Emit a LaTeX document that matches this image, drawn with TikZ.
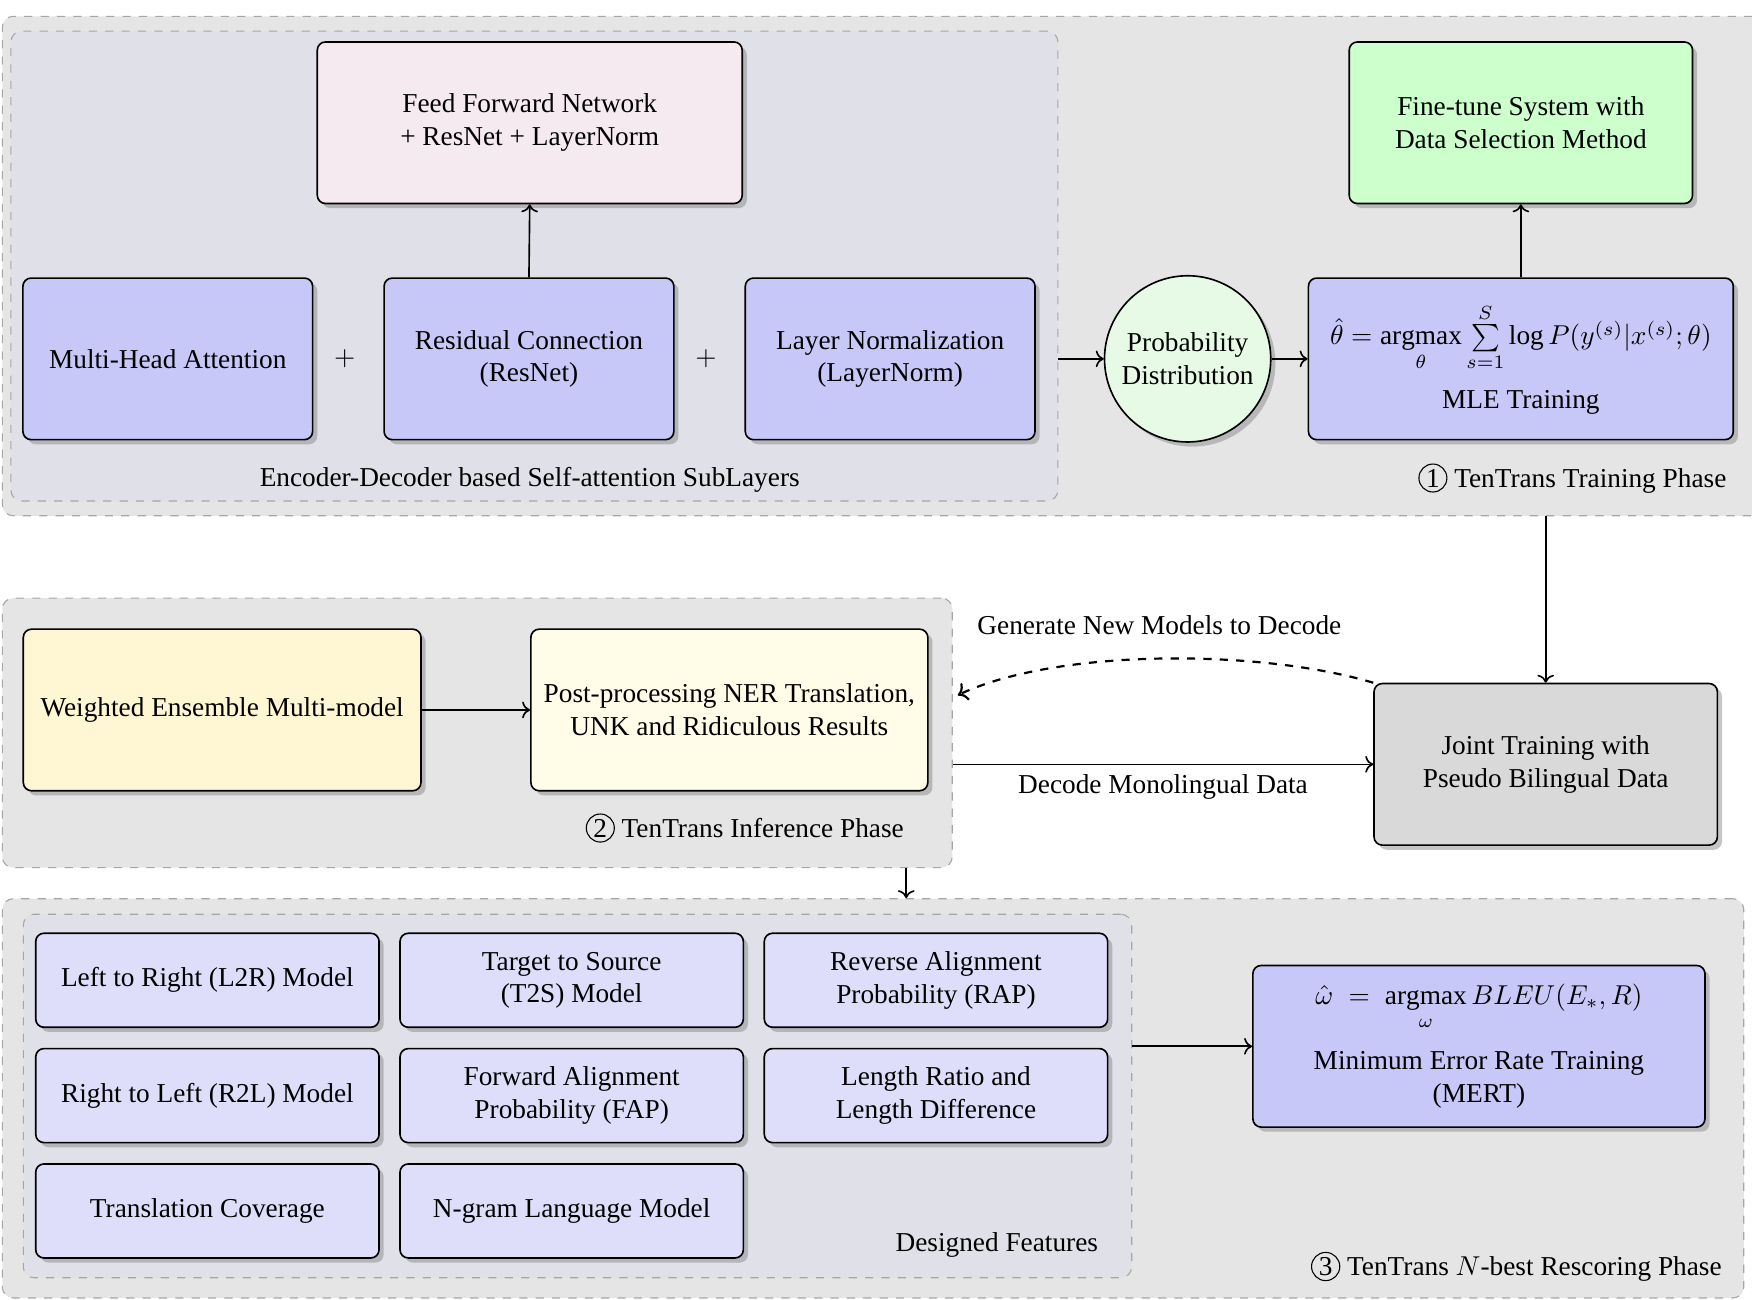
\documentclass[tikz,border=0pt]{standalone}
\usepackage{amsmath}
\usepackage{fontspec}
\setmainfont{Liberation Serif}
\usetikzlibrary{arrows.meta, calc, positioning, fit, shadows, shapes}

\definecolor{phasebg}{RGB}{229,229,229}
\definecolor{groupbg}{RGB}{224,225,232}
\definecolor{attnblue}{RGB}{200,200,248}
\definecolor{featblue}{RGB}{222,222,250}
\definecolor{ffnpink}{RGB}{245,234,240}
\definecolor{tunegreen}{RGB}{204,255,204}
\definecolor{probgreen}{RGB}{230,250,230}
\definecolor{ensyellow}{RGB}{255,247,212}
\definecolor{postyellow}{RGB}{255,252,232}
\definecolor{jointgray}{RGB}{217,217,217}

\newcommand{\phasenum}[1]{\tikz[baseline=(pn.base)]\node[draw,circle,thin,inner sep=0.7pt] (pn) {#1};}

\tikzset{
    phasebox/.style={draw=gray!70, dashed, fill=phasebg, rounded corners=4pt, inner sep=0pt},
    groupbox/.style={draw=gray!70, dashed, fill=groupbg, rounded corners=4pt, inner sep=0pt},
    block/.style={draw, semithick, rounded corners=3pt, align=center, minimum height=2.08cm,
        drop shadow={shadow xshift=0.6mm, shadow yshift=-0.6mm, opacity=0.45}},
    feat/.style={block, fill=featblue, minimum width=4.42cm, minimum height=1.21cm},
    conn/.style={->, semithick},
}

\begin{document}
\begin{tikzpicture}
    \useasboundingbox (0,0) rectangle (22.556,-16.736);
    % Training phase
    \node[phasebox, fit={(0.03,-0.21) (22.7,-6.64)}] (train) {};
    \node[groupbox, fit={(0.14,-0.40) (13.62,-6.45)}] (sublayer) {};
    \node[block, fill=ffnpink, minimum width=5.47cm] (ffn) at (6.82,-1.58) {Feed Forward Network\\+ ResNet + LayerNorm};
    \node[block, fill=attnblue, minimum width=3.73cm] (mha) at (2.16,-4.62) {Multi-Head Attention};
    \node[block, fill=attnblue, minimum width=3.73cm] (res) at (6.81,-4.62) {Residual Connection\\(ResNet)};
    \node[block, fill=attnblue, minimum width=3.73cm] (ln) at (11.46,-4.62) {Layer Normalization\\(LayerNorm)};
    \node (plus1) at ($(mha)!0.49!(res)$) {$+$};
    \node (plus2) at ($(res)!0.49!(ln)$) {$+$};
    \node[anchor=south] (sublabel) at ([xshift=-0.06cm]sublayer.south) {Encoder-Decoder based Self-attention SubLayers};
    \node[circle, draw, semithick, fill=probgreen, align=center, minimum size=2.14cm, inner sep=0pt,
        drop shadow={shadow xshift=0.6mm, shadow yshift=-0.6mm, opacity=0.45}] (prob) at (15.29,-4.62) {Probability\\Distribution};
    \node[block, fill=attnblue, minimum width=5.47cm] (mle) at (19.58,-4.62)
        {$\hat{\theta} = \operatorname*{argmax}\limits_{\theta} \sum\limits_{s=1}^{S} \log P(y^{(s)}|x^{(s)};\theta)$\\[6pt] MLE Training};
    \node[block, fill=tunegreen, minimum width=4.42cm] (tune) at (19.58,-1.58) {Fine-tune System with\\Data Selection Method};
    \node[anchor=south east] (trainlabel) at (22.35,-6.47) {\phasenum{1} TenTrans Training Phase};
    \draw[conn] (res.north) -- (ffn.south);
    \draw[conn] (sublayer.east |- prob.west) -- (prob.west);
    \draw[conn] (prob) -- (mle);
    \draw[conn] (mle) -- (tune);

    % Inference phase
    \node[phasebox, fit={(0.03,-7.70) (12.26,-11.17)}] (infer) {};
    \node[block, fill=ensyellow, minimum width=5.12cm] (ens) at (2.86,-9.14) {Weighted Ensemble Multi-model};
    \node[block, fill=postyellow, minimum width=5.11cm] (post) at (9.39,-9.14) {Post-processing NER Translation,\\UNK and Ridiculous Results};
    \node[anchor=east] (inferlabel) at (11.76,-10.66) {\phasenum{2} TenTrans Inference Phase};
    \node[block, fill=jointgray, minimum width=4.42cm] (joint) at (19.90,-9.84) {Joint Training with\\Pseudo Bilingual Data};
    \coordinate (back) at (12.33,-8.95);
    \draw[conn] (ens) -- (post);
    \draw[conn] (train.south -| joint.north) -- (joint.north);
    \draw[conn] (infer.east |- joint.west) -- node[below, midway] (decodelabel) {Decode Monolingual Data} (joint.west);
    \draw[conn, thick, dashed] (joint.north west) .. controls (16.2,-8.35) and (13.6,-8.35) .. node[above=5pt, pos=0.5] (genlabel) {Generate New Models to Decode} (back);

    % Rescoring phase
    \node[phasebox, fit={(0.03,-11.57) (22.45,-16.71)}] (rescore) {};
    \node[groupbox, fit={(0.30,-11.77) (14.57,-16.45)}] (feats) {};
    \foreach \name/\col/\row/\txt in {
        l2r/0/0/{Left to Right (L2R) Model},
        t2s/1/0/{Target to Source\\(T2S) Model},
        rap/2/0/{Reverse Alignment\\Probability (RAP)},
        r2l/0/1/{Right to Left (R2L) Model},
        fap/1/1/{Forward Alignment\\Probability (FAP)},
        len/2/1/{Length Ratio and\\Length Difference},
        cov/0/2/{Translation Coverage},
        ngram/1/2/{N-gram Language Model}} {
        \node[feat] (\name) at ({2.67+4.69*\col},{-12.62-1.485*\row}) {\txt};
    }
    \node[anchor=south east] (featlabel) at (14.26,-16.31) {Designed Features};
    \node[block, fill=attnblue, minimum width=5.82cm] (mert) at (19.04,-13.47)
        {$\hat{\omega} \;=\; \operatorname*{argmax}\limits_{\omega} BLEU(E_*,R)$\\[7pt] Minimum Error Rate Training\\(MERT)};
    \node[anchor=south east] (rescorelabel) at (22.29,-16.62) {\phasenum{3} TenTrans $N$-best Rescoring Phase};
    \coordinate (down) at ([xshift=-0.6cm]infer.south east);
    \draw[conn] (down) -- (down |- rescore.north);
    \draw[conn] (feats.east |- mert.west) -- (mert.west);
\end{tikzpicture}
\end{document}
